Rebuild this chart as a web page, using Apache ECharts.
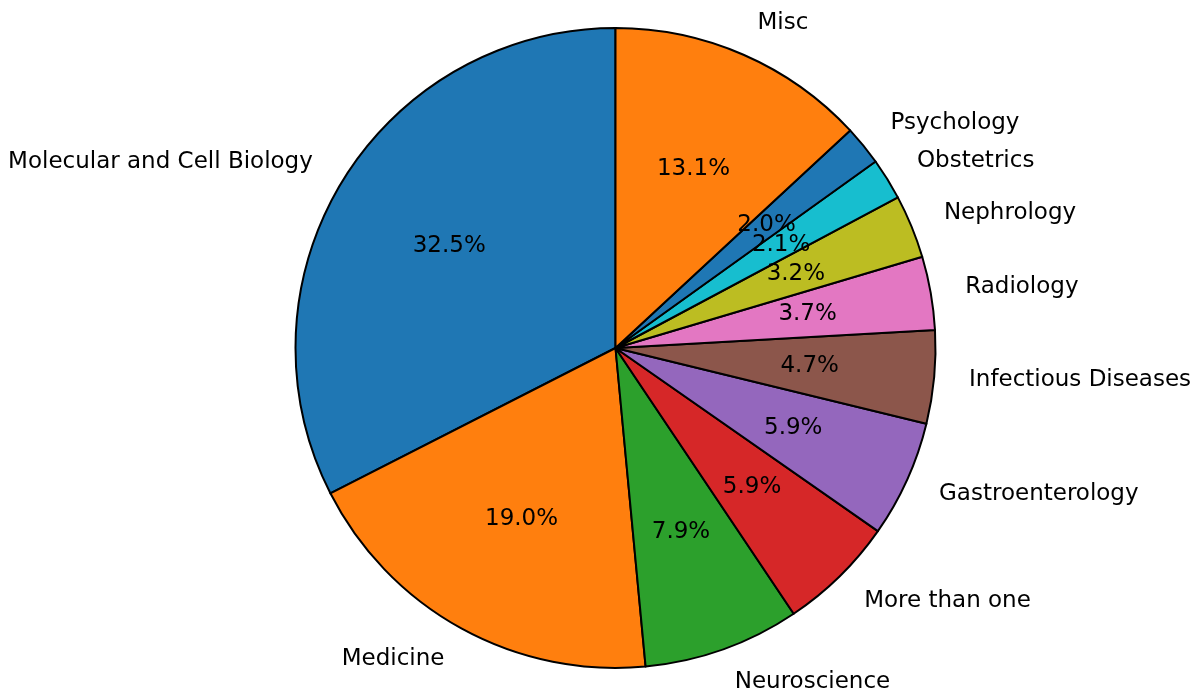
<!DOCTYPE html>
<html>
<head>
<meta charset="utf-8">
<script src="https://cdn.jsdelivr.net/npm/echarts@6/dist/echarts.min.js"></script>
<style>
  html, body { margin: 0; padding: 0; background: #fff; }
  #stage { width: 1197px; height: 689px; }
</style>
</head>
<body>
<div id="stage"></div>
<script>
'use strict';

// categories in drawing order (counter-clockwise from 12 o'clock)
const categories = ['Molecular and Cell Biology', 'Medicine', 'Neuroscience', 'More than one',
  'Gastroenterology', 'Infectious Diseases', 'Radiology', 'Nephrology', 'Obstetrics',
  'Psychology', 'Misc'];
const shares = [32.5, 19.0, 7.9, 5.9, 5.9, 4.7, 3.7, 3.2, 2.1, 2.0, 13.1];
const colors = ['#1f77b4', '#ff7f0e', '#2ca02c', '#d62728', '#9467bd', '#8c564b',
  '#e377c2', '#bcbd22', '#17becf', '#1f77b4', '#ff7f0e'];

const myChart = echarts.init(document.getElementById('stage'));
const CX = 615.5, CY = 348, R = 320;
const FONT = 'DejaVu Sans';
const FS = 23;

const base = {
  type: 'pie',
  center: [CX, CY],
  startAngle: 90,
  clockwise: false,
  avoidLabelOverlap: false,
  minShowLabelAngle: 0,
  labelLine: { show: false }
};

const option = {
  animation: false,
  series: [
    // the slices
    Object.assign({}, base, {
      radius: [0, R],
      silent: true,
      label: { show: false },
      itemStyle: { borderColor: '#000', borderWidth: 2 },
      data: categories.map((c, i) => ({ name: c, value: shares[i], itemStyle: { color: colors[i] } }))
    }),
    // percent labels at 0.6 R
    Object.assign({}, base, {
      radius: [0, R * 1.2],
      silent: true,
      z: 5,
      itemStyle: { color: 'rgba(0,0,0,0)', borderWidth: 0 },
      label: {
        show: true, position: 'inside', color: '#000',
        fontFamily: FONT, fontSize: FS,
        formatter: p => shares[p.dataIndex].toFixed(1) + '%'
      },
      labelLayout: { hideOverlap: false, moveOverlap: null },
      data: categories.map((c, i) => ({ name: c, value: shares[i] }))
    }),
    // category labels at 1.1 R, aligned away from the pie
    Object.assign({}, base, {
      radius: [0, R * 2.2],
      silent: true,
      z: 5,
      itemStyle: { color: 'rgba(0,0,0,0)', borderWidth: 0 },
      label: {
        show: true, position: 'inside', color: '#000',
        fontFamily: FONT, fontSize: FS,
        formatter: '{b}'
      },
      labelLayout: function (params) {
        const r = params.labelRect;
        const mid = r.x + r.width / 2;
        return { dx: mid >= CX ? r.width / 2 : -r.width / 2, hideOverlap: false };
      },
      data: categories.map((c, i) => ({ name: c, value: shares[i] }))
    })
  ]
};

myChart.setOption(option);
</script>
</body>
</html>
